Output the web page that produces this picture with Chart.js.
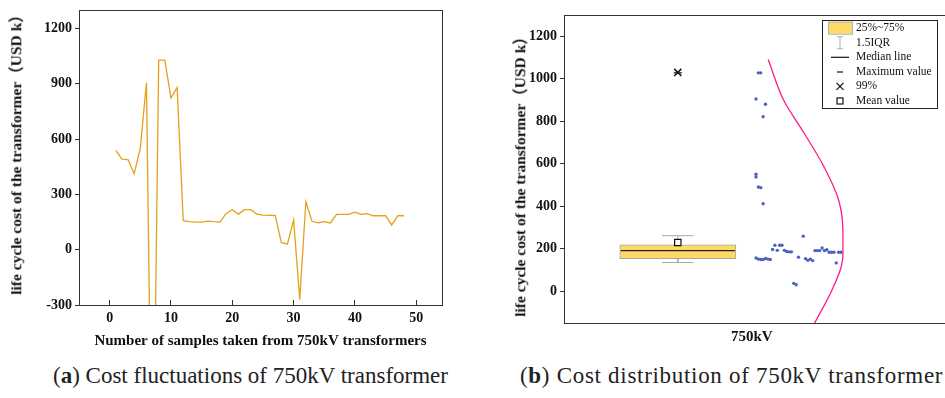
<!DOCTYPE html>
<html>
<head>
<meta charset="UTF-8">
<title>750kV transformer cost</title>
<script src="https://cdn.jsdelivr.net/npm/chart.js"></script>
<style>
  html, body { margin: 0; padding: 0; background: #fff; width: 945px; height: 398px; overflow: hidden; }
  .panel { position: absolute; top: 0; height: 360px; }
  #left { left: 0; width: 460px; }
  #right { left: 500px; width: 452px; }
  .caption { position: absolute; top: 363px; font-family: 'Liberation Serif', serif; font-size: 23px; color: #222; white-space: nowrap; }
  .ytitle { position: absolute; font-family: 'Liberation Serif', 'Noto Sans CJK SC', serif; font-size: 15.5px; font-weight: bold;
            color: #111; white-space: nowrap; transform: translate(-50%, -50%) rotate(-90deg); line-height: 1; }
</style>
</head>
<body>
<div class="panel" id="left"><canvas id="lineChart"></canvas></div>
<div class="panel" id="right"><canvas id="boxChart"></canvas></div>
<div class="ytitle" style="left:16px; top:151px">life cycle cost of the transformer（USD k）</div>
<div class="ytitle" style="left:520px; top:173px">life cycle cost of the transformer（USD k）</div>
<div class="caption" style="left:53px">(<b>a</b>) Cost fluctuations of 750kV transformer</div>
<div class="caption" style="left:520px; letter-spacing:0.7px">(<b>b</b>) Cost distribution of 750kV transformer</div>

<script>
  // life cycle cost of each sample (USD k), sample 1..48
  const costs = [538, 491, 488, 412, 551, 905, -1600, 1028, 1028, 822, 880,
    157, 152, 150, 150, 155, 152, 150,
    197, 217, 193, 217, 217, 193, 188, 186, 186,
    38, 31, 161, -271, 260,
    154, 146, 152, 145, 192, 192, 192, 204, 192, 196, 184, 184, 184, 134, 184, 184];

  // column slot of each dot in the overlap scatter (b)
  const dotSlot = [0, 1, 2, 3, 0, 0, 1, 1, 2, 3, 4,
    0, 1, 2, 3, 4, 5, 6,
    7, 8, 9, 10, 11, 12, 13, 14, 15,
    16, 17, 18, 19, 20,
    21, 22, 23, 24, 25, 26, 27, 28, 29, 30, 31, 32, 33, 34, 35, 36];

  // box statistics
  const q1 = 153.5, q3 = 219, median = 192;
  const whiskerLow = 136, whiskerHigh = 262;
  const meanValue = 230, p99 = 1030, maxValue = 1028;

  // normal curve read from (b): cost value and curve height (x units)
  const curveValue   = [1091, 900, 744, 587, 430, 274, 180, 117, 8, -148];
  const curveDensity = [1.0437, 1.0846, 1.1395, 1.1919, 1.2312, 1.2427, 1.2427, 1.2382, 1.2139, 1.1675];

  const xTicksA = [0, 10, 20, 30, 40, 50];
  const yTicksA = [-300, 0, 300, 600, 900, 1200];
  const yTicksB = [0, 200, 400, 600, 800, 1000, 1200];
  const categories = ['750kV'];

  const serif = "'Liberation Serif', 'Noto Sans CJK SC', serif";
  const tickFont = { family: serif, size: 14, weight: 'bold' };

  // keep the plot area where the layout padding puts it
  const noPadX = h => s => { s.height = h; s.paddingLeft = 0; s.paddingRight = 0; };
  const noPadY = w => s => { s.width = w; s.paddingTop = 0; s.paddingBottom = 0; };

  const frame = {
    id: 'frame',
    afterDraw(chart) {
      const { ctx, chartArea: a } = chart;
      ctx.save();
      ctx.strokeStyle = '#333';
      ctx.lineWidth = 1;
      ctx.strokeRect(Math.round(a.left) + 0.5, Math.round(a.top) + 0.5, Math.round(a.right - a.left), Math.round(a.bottom - a.top));
      ctx.restore();
    }
  };

  new Chart(document.getElementById('lineChart'), {
    type: 'line',
    data: {
      datasets: [{
        data: costs.map((c, i) => ({ x: i + 1, y: c })),
        borderColor: '#e5a11c',
        borderWidth: 1.3,
        pointRadius: 0,
        tension: 0,
        fill: false
      }]
    },
    options: {
      responsive: true,
      maintainAspectRatio: false,
      animation: false,
      layout: { padding: { top: 10, right: 18, left: 0, bottom: 0 } },
      plugins: { legend: { display: false }, tooltip: { enabled: false } },
      scales: {
        x: {
          type: 'linear', min: -5, max: 54.2,
          afterBuildTicks: s => { s.ticks = xTicksA.map(v => ({ value: v })); },
          afterFit: noPadX(55),
          grid: { drawOnChartArea: false, tickLength: -5, color: '#333' },
          border: { display: false },
          ticks: { callback: v => String(v), font: tickFont, color: '#111', padding: 10 },
          title: { display: true, text: 'Number of samples taken from 750kV transformers',
                   font: { family: serif, size: 15, weight: 'bold' }, color: '#111', padding: { top: 0, bottom: 10 } }
        },
        y: {
          min: -300, max: 1300,
          afterBuildTicks: s => { s.ticks = yTicksA.map(v => ({ value: v })); },
          afterFit: noPadY(79),
          grid: { drawOnChartArea: false, tickLength: 4, color: '#333' },
          border: { display: false },
          ticks: { callback: v => String(v), font: tickFont, color: '#111', padding: 3 }
        }
      }
    },
    plugins: [frame]
  });

  // legend of (b)
  const boxLegend = {
    id: 'boxLegend',
    afterDraw(chart) {
      const ctx = chart.ctx;
      const lx = 322, ly = 20, lw = 115, lh = 88, sx = 340, tx = 356;
      const rows = [27.7, 42.7, 57.3, 72, 86.3, 101];
      const names = ['25%~75%', '1.5IQR', 'Median line', 'Maximum value', '99%', 'Mean value'];
      ctx.save();
      ctx.fillStyle = '#fff';
      ctx.fillRect(lx, ly, lw, lh);
      ctx.strokeStyle = '#222';
      ctx.lineWidth = 1;
      ctx.strokeRect(lx + 0.5, ly + 0.5, lw, lh);
      // box swatch
      ctx.fillStyle = '#ffd966';
      ctx.fillRect(sx - 12, rows[0] - 6, 24, 12);
      ctx.strokeStyle = '#b0b0b0';
      ctx.strokeRect(sx - 12 + 0.5, rows[0] - 6 + 0.5, 24, 12);
      // whisker
      ctx.beginPath();
      ctx.moveTo(sx, rows[1] - 6); ctx.lineTo(sx, rows[1] + 6);
      ctx.moveTo(sx - 3, rows[1] - 6); ctx.lineTo(sx + 3, rows[1] - 6);
      ctx.moveTo(sx - 3, rows[1] + 6); ctx.lineTo(sx + 3, rows[1] + 6);
      ctx.stroke();
      // median
      ctx.strokeStyle = '#111';
      ctx.lineWidth = 1.2;
      ctx.beginPath(); ctx.moveTo(sx - 9, rows[2]); ctx.lineTo(sx + 9, rows[2]); ctx.stroke();
      // maximum
      ctx.beginPath(); ctx.moveTo(sx - 3, rows[3]); ctx.lineTo(sx + 3, rows[3]); ctx.stroke();
      // 99%
      ctx.beginPath();
      ctx.moveTo(sx - 3.5, rows[4] - 3.5); ctx.lineTo(sx + 3.5, rows[4] + 3.5);
      ctx.moveTo(sx + 3.5, rows[4] - 3.5); ctx.lineTo(sx - 3.5, rows[4] + 3.5);
      ctx.stroke();
      // mean
      ctx.strokeRect(sx - 3, rows[5] - 3, 6, 6);
      ctx.fillStyle = '#111';
      ctx.font = '11.5px ' + serif;
      ctx.textBaseline = 'middle';
      names.forEach((n, i) => ctx.fillText(n, tx, rows[i]));
      ctx.restore();
    }
  };

  const boxX = 0.803, boxHalf = 0.152, capHalf = 0.042;
  const dotStart = 1.0113, dotStep = 0.00628;
  const gray = '#a8a8a8';

  new Chart(document.getElementById('boxChart'), {
    type: 'scatter',
    data: {
      datasets: [
        { type: 'bar', data: [{ x: boxX, y: [q1, q3] }], backgroundColor: '#ffd966', borderColor: gray,
          borderWidth: 1, borderSkipped: false, barThickness: 116, order: 10 },
        { type: 'line', data: [{ x: boxX, y: q3 }, { x: boxX, y: whiskerHigh }], borderColor: gray, borderWidth: 1, pointRadius: 0, order: 9 },
        { type: 'line', data: [{ x: boxX - capHalf, y: whiskerHigh }, { x: boxX + capHalf, y: whiskerHigh }], borderColor: gray, borderWidth: 1, pointRadius: 0, order: 9 },
        { type: 'line', data: [{ x: boxX, y: q1 }, { x: boxX, y: whiskerLow }], borderColor: gray, borderWidth: 1, pointRadius: 0, order: 9 },
        { type: 'line', data: [{ x: boxX - capHalf, y: whiskerLow }, { x: boxX + capHalf, y: whiskerLow }], borderColor: gray, borderWidth: 1, pointRadius: 0, order: 9 },
        { type: 'line', data: [{ x: boxX - boxHalf, y: median }, { x: boxX + boxHalf, y: median }], borderColor: '#222', borderWidth: 1.4, pointRadius: 0, order: 5 },
        { type: 'line', indexAxis: 'y', cubicInterpolationMode: 'monotone',
          data: curveValue.map((v, i) => ({ x: curveDensity[i], y: v })), borderColor: '#ff1a8c',
          borderWidth: 1.3, pointRadius: 0, order: 4 },
        { data: costs.map((c, i) => ({ x: dotStart + dotSlot[i] * dotStep, y: c })), backgroundColor: '#4b62c2',
          borderWidth: 0, pointRadius: 1.7, order: 3 },
        { data: [{ x: boxX, y: maxValue }], pointStyle: 'line', pointRadius: 4, borderColor: '#111', borderWidth: 1.2, order: 2 },
        { data: [{ x: boxX, y: p99 }], pointStyle: 'crossRot', pointRadius: 5, borderColor: '#111', borderWidth: 1.5, order: 1 },
        { data: [{ x: boxX, y: meanValue }], pointStyle: 'rect', pointRadius: 4.5, backgroundColor: '#fff', borderColor: '#111', borderWidth: 1.2, order: 0 }
      ]
    },
    options: {
      responsive: true,
      maintainAspectRatio: false,
      animation: false,
      layout: { padding: { top: 15, right: 0, left: 0, bottom: 0 } },
      plugins: { legend: { display: false }, tooltip: { enabled: false } },
      scales: {
        x: {
          type: 'linear', min: 0.5, max: 1.5157, offset: false,
          afterBuildTicks: s => { s.ticks = categories.map((c, i) => ({ value: i + 1 })); },
          afterFit: noPadX(36.7),
          grid: { drawOnChartArea: false, drawTicks: false },
          border: { display: false },
          ticks: { callback: v => categories[v - 1], font: { family: serif, size: 15, weight: 'bold' }, color: '#111', padding: 5 }
        },
        y: {
          min: -150, max: 1300,
          afterBuildTicks: s => { s.ticks = yTicksB.map(v => ({ value: v })); },
          afterFit: noPadY(64),
          grid: { drawOnChartArea: false, tickLength: 4, color: '#333' },
          border: { display: false },
          ticks: { callback: v => String(v), font: tickFont, color: '#111', padding: 3 }
        }
      }
    },
    plugins: [frame, boxLegend]
  });
</script>
</body>
</html>
